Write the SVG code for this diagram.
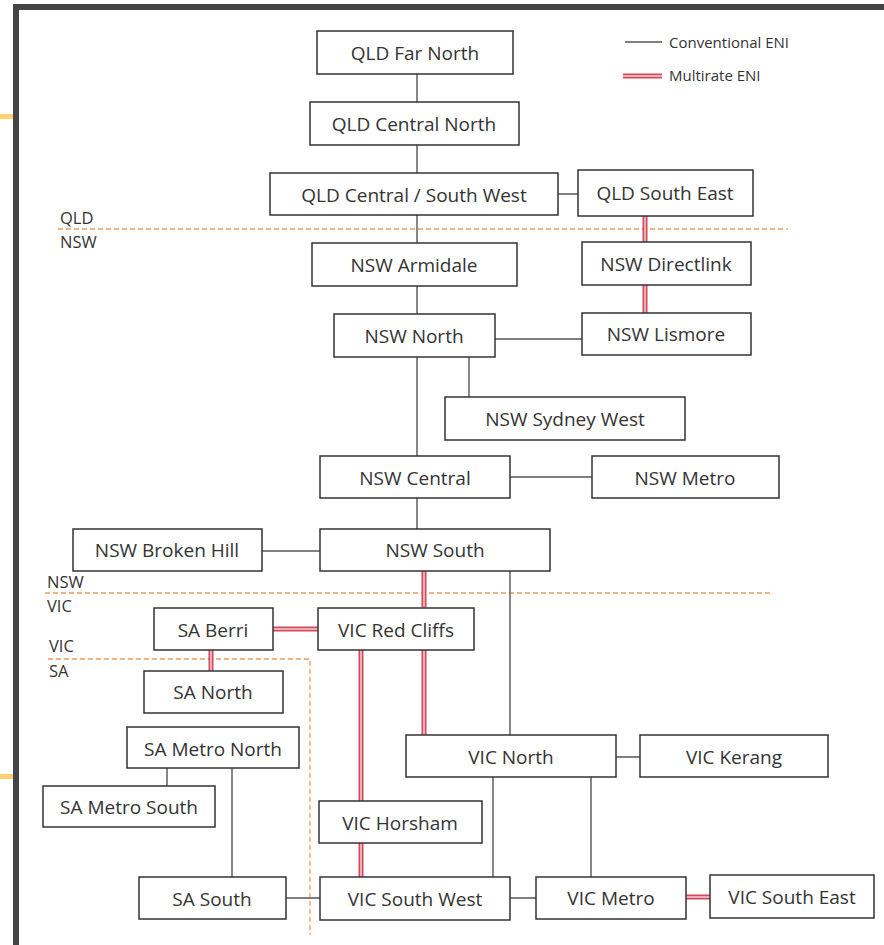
<svg xmlns="http://www.w3.org/2000/svg" width="884" height="945" viewBox="0 0 884 945">
<style>
.box{fill:#fff;stroke:#333;stroke-width:1.5}
.t{font-family:"Open Sans","Noto Sans",sans-serif;font-size:19px;fill:#333;text-anchor:middle;dominant-baseline:central}
.lbl{font-family:"Open Sans","Noto Sans",sans-serif;font-size:16.5px;fill:#333}
.leg{font-family:"Open Sans","Noto Sans",sans-serif;font-size:15px;fill:#333}
.c{stroke:#555;stroke-width:1.4;fill:none}
.mo{stroke:#d24a5c;stroke-width:5;fill:none}
.mi{stroke:#f4d0d4;stroke-width:1.5;fill:none}
.b{stroke:#f79a5a;stroke-width:1.3;stroke-dasharray:5 3;fill:none}
</style>
<rect x="0" y="0" width="884" height="945" fill="#fff"/>
<g id="frame">
<rect x="13" y="4" width="871" height="6" fill="#444"/>
<rect x="13" y="4" width="6" height="941" fill="#444"/>
<rect x="0" y="114" width="13" height="5" fill="#ffd070"/>
<rect x="0" y="774" width="13" height="5" fill="#ffd070"/>
</g>
<g id="borders">
<path class="b" d="M58 229 H788"/>
<text class="lbl" x="60" y="224">QLD</text>
<text class="lbl" x="60" y="248">NSW</text>
<path class="b" d="M45 593 H772"/>
<text class="lbl" x="47" y="588">NSW</text>
<text class="lbl" x="47" y="612">VIC</text>
<path class="b" d="M48 659 H310 V935"/>
<text class="lbl" x="49" y="652">VIC</text>
<text class="lbl" x="49" y="677">SA</text>
</g>
<g id="legend">
<path class="c" d="M625 42 H662" stroke="#222"/>
<text class="leg" x="669" y="48">Conventional ENI</text>
<path class="mo" d="M623 76 H662"/>
<path class="mi" d="M623 76 H662"/>
<text class="leg" x="669" y="81">Multirate ENI</text>
</g>
<g id="connectors">
<path class="c" d="M417 74 V102 M417 145 V173 M558 194 H578 M417 215 V243 M417 286 V314 M495 339 H582 M469 357 V397 M417 357 V456 M510 477 H592 M417 498 V529 M262 551 H320 M510 571 V735 M616 757 H640 M493 777 V877 M591 777 V877 M510 898 H536 M286 898 H320 M167 768 V786 M232 768 V877"/>
<g class="mo"><path d="M645 216 V242 M645 285 V313 M424 571 V608 M273 629 H318 M211 650 V671 M424 650 V735 M361 650 V801 M361 843 V877 M686 897 H710"/></g>
<g class="mi"><path d="M645 216 V242 M645 285 V313 M424 571 V608 M273 629 H318 M211 650 V671 M424 650 V735 M361 650 V801 M361 843 V877 M686 897 H710"/></g>
</g>
<g id="qld-far-north"><rect class="box" x="317" y="31" width="196" height="43"/><text class="t" x="415" y="53">QLD Far North</text></g>
<g id="qld-central-north"><rect class="box" x="310" y="102" width="209" height="43"/><text class="t" x="414" y="124">QLD Central North</text></g>
<g id="qld-central-south-west"><rect class="box" x="270" y="173" width="288" height="42"/><text class="t" x="414" y="195">QLD Central / South West</text></g>
<g id="qld-south-east"><rect class="box" x="578" y="170" width="175" height="46"/><text class="t" x="665" y="193">QLD South East</text></g>
<g id="nsw-armidale"><rect class="box" x="312" y="243" width="205" height="43"/><text class="t" x="414" y="265">NSW Armidale</text></g>
<g id="nsw-directlink"><rect class="box" x="582" y="242" width="169" height="43"/><text class="t" x="666" y="264">NSW Directlink</text></g>
<g id="nsw-north"><rect class="box" x="334" y="314" width="161" height="43"/><text class="t" x="414" y="336">NSW North</text></g>
<g id="nsw-lismore"><rect class="box" x="582" y="313" width="169" height="42"/><text class="t" x="666" y="334">NSW Lismore</text></g>
<g id="nsw-sydney-west"><rect class="box" x="445" y="397" width="240" height="43"/><text class="t" x="565" y="419">NSW Sydney West</text></g>
<g id="nsw-central"><rect class="box" x="320" y="456" width="190" height="42"/><text class="t" x="415" y="478">NSW Central</text></g>
<g id="nsw-metro"><rect class="box" x="592" y="456" width="187" height="42"/><text class="t" x="685" y="478">NSW Metro</text></g>
<g id="nsw-broken-hill"><rect class="box" x="73" y="529" width="189" height="42"/><text class="t" x="167" y="550">NSW Broken Hill</text></g>
<g id="nsw-south"><rect class="box" x="320" y="529" width="230" height="42"/><text class="t" x="435" y="550">NSW South</text></g>
<g id="sa-berri"><rect class="box" x="154" y="608" width="119" height="42"/><text class="t" x="213" y="630">SA Berri</text></g>
<g id="vic-red-cliffs"><rect class="box" x="318" y="608" width="156" height="42"/><text class="t" x="396" y="630">VIC Red Cliffs</text></g>
<g id="sa-north"><rect class="box" x="144" y="671" width="139" height="42"/><text class="t" x="213" y="692">SA North</text></g>
<g id="sa-metro-north"><rect class="box" x="127" y="727" width="172" height="41"/><text class="t" x="213" y="749">SA Metro North</text></g>
<g id="sa-metro-south"><rect class="box" x="43" y="786" width="172" height="41"/><text class="t" x="129" y="807">SA Metro South</text></g>
<g id="vic-north"><rect class="box" x="406" y="735" width="210" height="42"/><text class="t" x="511" y="757">VIC North</text></g>
<g id="vic-kerang"><rect class="box" x="640" y="735" width="188" height="42"/><text class="t" x="734" y="757">VIC Kerang</text></g>
<g id="vic-horsham"><rect class="box" x="319" y="801" width="163" height="42"/><text class="t" x="400" y="823">VIC Horsham</text></g>
<g id="sa-south"><rect class="box" x="139" y="877" width="147" height="42"/><text class="t" x="212" y="899">SA South</text></g>
<g id="vic-south-west"><rect class="box" x="320" y="877" width="190" height="43"/><text class="t" x="415" y="899">VIC South West</text></g>
<g id="vic-metro"><rect class="box" x="536" y="877" width="150" height="42"/><text class="t" x="611" y="898">VIC Metro</text></g>
<g id="vic-south-east"><rect class="box" x="710" y="875" width="164" height="43"/><text class="t" x="792" y="897">VIC South East</text></g>
</svg>
